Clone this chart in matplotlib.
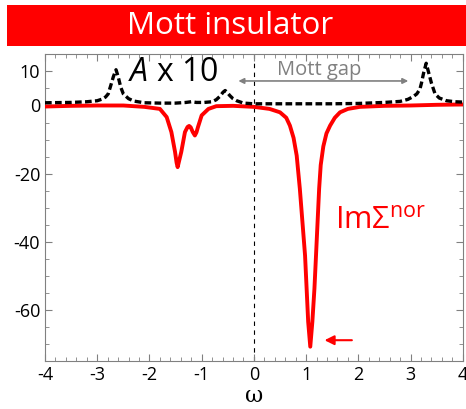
import matplotlib
matplotlib.use("Agg")
import matplotlib.pyplot as plt
from matplotlib.patches import Rectangle
from matplotlib.ticker import MultipleLocator

plt.rcParams["font.family"] = ["Open Sans", "DejaVu Sans"]
plt.rcParams["mathtext.fontset"] = "custom"
plt.rcParams["mathtext.rm"] = "Open Sans"
plt.rcParams["mathtext.it"] = "Open Sans:italic"
plt.rcParams["axes.unicode_minus"] = False

# Im Sigma^nor (red, solid)
red_w = [-4.0, -3.5, -3.0, -2.5, -2.1, -1.8, -1.67, -1.58, -1.51, -1.48, -1.46,
         -1.44, -1.39, -1.32, -1.27, -1.24, -1.21, -1.17, -1.13, -1.10, -1.07,
         -1.0, -0.87, -0.72, -0.4, 0.0, 0.3, 0.5, 0.62, 0.69, 0.76, 0.82, 0.88,
         0.93, 0.98, 1.01, 1.04, 1.08, 1.12, 1.16, 1.19, 1.22, 1.25, 1.28, 1.33,
         1.39, 1.46, 1.55, 1.65, 1.8, 2.03, 2.5, 3.0, 3.5, 4.0]
red_im = [-0.3, -0.1, 0.0, 0.0, -0.4, -1.0, -3.4, -7.8, -13.6, -16.8, -18.1,
          -16.8, -13.6, -7.8, -6.3, -6.0, -6.4, -7.8, -8.8, -7.9, -6.3,
          -2.9, -1.0, -0.2, -0.1, -0.4, -1.0, -2.0, -3.6, -5.9, -9.5, -14.7, -24.4,
          -34.2, -44.0, -53.7, -63.5, -70.8, -63.5, -53.7, -44.0, -34.2, -24.4, -17.5, -12.0,
          -8.2, -5.9, -3.6, -2.0, -1.0, -0.4, -0.1, 0.0, 0.2, 0.3]

# spectral function A x 10 (black, dashed)
blk_w = [-4.0, -3.5, -3.2, -3.0, -2.9, -2.84, -2.79, -2.75, -2.69, -2.64, -2.6,
         -2.55, -2.5, -2.4, -2.3, -2.1, -1.8, -1.5, -1.3, -1.2, -1.1, -0.95, -0.8,
         -0.72, -0.65, -0.59, -0.55, -0.51, -0.46, -0.4, -0.33, -0.2, 0.0, 0.5,
         1.0, 1.5, 2.0, 2.5, 2.8, 2.95, 3.05, 3.12, 3.18, 3.21, 3.25, 3.3, 3.35,
         3.4, 3.47, 3.55, 3.69, 3.85, 4.0]
blk_a = [0.8, 0.9, 1.1, 1.4, 1.9, 2.5, 3.4, 5.4, 8.5, 10.5, 8.5,
         5.4, 3.4, 2.0, 1.3, 0.8, 0.7, 0.7, 0.9, 1.1, 0.9, 0.9, 1.1,
         1.7, 2.7, 3.9, 4.4, 3.8, 2.9, 2.0, 1.4, 0.7, 0.5, 0.5,
         0.5, 0.5, 0.6, 0.9, 1.2, 1.8, 2.6, 3.4, 4.8, 6.6, 9.5, 12.4, 9.5,
         6.6, 3.4, 2.2, 1.4, 1.1, 1.0]

xticks = [-4, -3, -2, -1, 0, 1, 2, 3, 4]
yticks = [10, 0, -20, -40, -60]

fig = plt.figure(figsize=(4.66, 4.09), dpi=100)

# red title banner
fig.patches.append(Rectangle((0.015, 0.888), 0.985, 0.1, transform=fig.transFigure,
                             facecolor="#ff0000", edgecolor="none"))
fig.text(0.494, 0.937, "Mott insulator", color="white", fontsize=22.5,
         ha="center", va="center")

ax = fig.add_axes([0.0966, 0.1174, 0.8964, 0.7496])
ax.plot(red_w, red_im, color="#ff0000", lw=2.8, solid_joinstyle="round", zorder=3)
ax.plot(blk_w, blk_a, color="black", lw=2.4, linestyle=(0, (2.0, 1.0)), zorder=4)
ax.axvline(0, color="black", lw=0.8, linestyle=(0, (4, 4)), zorder=1)

ax.set_xlim(-4, 4)
ax.set_ylim(-75, 15)
ax.set_xticks(xticks)
ax.set_yticks(yticks)
ax.xaxis.set_minor_locator(MultipleLocator(0.2))
ax.yaxis.set_minor_locator(MultipleLocator(5))
ax.tick_params(which="both", direction="in", top=True, right=True, color="#808080",
               labelsize=13, labelcolor="black")
ax.tick_params(which="major", length=5)
ax.tick_params(which="minor", length=3)
for s in ax.spines.values():
    s.set_color("#808080")
ax.set_xlabel("ω", fontsize=16, family=["DejaVu Serif"], labelpad=1)

ax.text(-1.55, 9.6, "$\\it{A}$ x 10", fontsize=23, ha="center", va="center")
ax.text(1.26, 9.0, "Mott gap", fontsize=14.5, color="#808080", ha="center",
        va="baseline")
ax.annotate("", xy=(-0.35, 7.2), xytext=(3.01, 7.2),
            arrowprops=dict(arrowstyle="<|-|>", color="#808080", lw=1.2,
                            mutation_scale=8))
ax.text(1.55, -36.2, "Im$\\Sigma^{\\rm nor}$", fontsize=22, color="#ff0000",
        ha="left", va="baseline")
ax.annotate("", xy=(1.3, -68.9), xytext=(1.93, -68.9),
            arrowprops=dict(arrowstyle="-|>", color="#ff0000", lw=1.5,
                            mutation_scale=14))

fig.savefig("out.png", dpi=100)
